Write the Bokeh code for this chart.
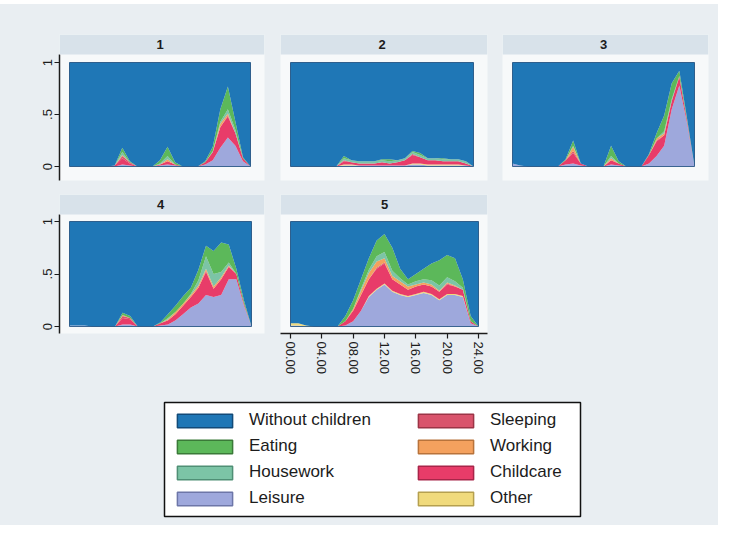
import numpy as np
from bokeh.plotting import figure
from bokeh.models import (ColumnDataSource, Range1d, FixedTicker, Label, Legend,
                          LegendItem, BoxAnnotation, Spacer)
from bokeh.layouts import column, row
from bokeh.embed import file_html
from bokeh.resources import INLINE

# ---------------- data ----------------
HOURS = [0, 1, 2, 3, 4, 5, 6, 7, 8, 9, 10, 11, 12, 13, 14, 15, 16, 17, 18, 19, 20, 21, 22, 23, 24]
X_TICKS = [0, 4, 8, 12, 16, 20, 24]
X_TICK_LABELS = ["00.00", "04.00", "08.00", "12.00", "16.00", "20.00", "24.00"]
Y_TICKS = [0, 0.5, 1]
Y_TICK_LABELS = ["0", ".5", "1"]
PANEL_NAMES = ["1", "2", "3", "4", "5"]
CATEGORIES = ["Without children", "Eating", "Housework", "Leisure",
              "Sleeping", "Working", "Childcare", "Other"]

# panel 1
p1_leisure   = [0, 0, 0, 0, 0, 0, 0, .02, .01, 0, 0, 0, .01, .02, .01, 0, 0, 0, .02, .06, .18, .28, .20, .05, 0]
p1_other     = [0, 0, 0, 0, 0, 0, 0, 0, 0, 0, 0, 0, 0, 0, 0, 0, 0, 0, 0, 0, 0, 0, 0, 0, 0]
p1_childcare = [0, 0, 0, 0, 0, 0, .01, .06, .02, 0, 0, 0, .01, .03, .01, 0, 0, 0, .02, .08, .20, .20, .12, .03, 0]
p1_sleeping  = [0, 0, 0, 0, 0, 0, 0, .02, .01, 0, 0, 0, 0, 0, 0, 0, 0, 0, 0, 0, 0, .01, 0, 0, 0]
p1_working   = [0, 0, 0, 0, 0, 0, 0, .01, 0, 0, 0, 0, 0, .02, 0, 0, 0, 0, 0, 0, .03, .02, 0, 0, 0]
p1_housework = [0, 0, 0, 0, 0, 0, 0, .03, 0, 0, 0, 0, .01, .03, 0, 0, 0, 0, 0, .01, .02, .04, .03, 0, 0]
p1_eating    = [0, 0, 0, 0, 0, 0, 0, .04, .01, 0, 0, 0, .03, .09, .02, 0, 0, 0, .01, .04, .12, .22, .08, .01, 0]

# panel 2
p2_leisure   = [0, 0, 0, 0, 0, 0, 0, .01, .01, .01, .01, .01, .01, .01, .01, .01, .02, .02, .01, .01, .01, .01, .01, .01, 0]
p2_other     = [0, 0, 0, 0, 0, 0, 0, .01, .01, 0, 0, 0, 0, 0, 0, 0, .01, .01, .01, .01, .01, .01, .01, 0, 0]
p2_childcare = [0, 0, 0, 0, 0, 0, 0, .03, .02, .02, .02, .02, .03, .02, .03, .05, .08, .06, .04, .04, .03, .03, .03, .02, 0]
p2_sleeping  = [0, 0, 0, 0, 0, 0, 0, .01, 0, 0, 0, 0, 0, 0, 0, 0, .01, 0, 0, 0, 0, 0, 0, 0, 0]
p2_working   = [0, 0, 0, 0, 0, 0, 0, 0, 0, 0, 0, 0, 0, 0, 0, 0, 0, 0, 0, 0, 0, 0, 0, 0, 0]
p2_housework = [0, 0, 0, 0, 0, 0, 0, .02, .02, .02, .02, .02, .02, .02, .02, .02, .02, .02, .02, .02, .02, .02, .02, .02, 0]
p2_eating    = [0, 0, 0, 0, 0, 0, 0, .02, 0, 0, 0, 0, .01, .02, 0, 0, .01, .02, 0, 0, .01, 0, 0, 0, 0]

# panel 3
p3_leisure   = [.03, .01, 0, 0, 0, 0, 0, .02, .03, .01, 0, 0, 0, .02, .01, 0, 0, 0, .03, .10, .20, .55, .78, .42, 0]
p3_other     = [0, 0, 0, 0, 0, 0, 0, 0, 0, 0, 0, 0, 0, 0, 0, 0, 0, 0, 0, 0, 0, 0, 0, 0, 0]
p3_childcare = [0, 0, 0, 0, 0, 0, 0, .04, .10, .02, 0, 0, 0, .04, .02, 0, 0, 0, .08, .14, .10, .08, .08, .03, 0]
p3_sleeping  = [0, 0, 0, 0, 0, 0, 0, 0, .02, 0, 0, 0, 0, 0, 0, 0, 0, 0, 0, .01, 0, 0, .01, 0, 0]
p3_working   = [0, 0, 0, 0, 0, 0, 0, 0, .04, 0, 0, 0, 0, .02, 0, 0, 0, 0, 0, .02, .02, 0, 0, 0, 0]
p3_housework = [0, 0, 0, 0, 0, 0, 0, 0, .01, 0, 0, 0, 0, .02, 0, 0, 0, 0, 0, 0, .02, .02, 0, 0, 0]
p3_eating    = [0, 0, 0, 0, 0, 0, 0, .01, .05, 0, 0, 0, 0, .10, .02, 0, 0, 0, .01, .05, .15, .15, .05, .02, 0]

# panel 4
p4_leisure   = [.01, .01, .01, 0, 0, 0, 0, .02, .02, 0, 0, 0, .01, .02, .06, .12, .18, .22, .30, .28, .30, .45, .45, .20, 0]
p4_other     = [0, 0, 0, 0, 0, 0, 0, 0, 0, 0, 0, 0, 0, 0, 0, 0, 0, 0, 0, 0, 0, 0, 0, 0, 0]
p4_childcare = [0, 0, 0, 0, 0, 0, 0, .06, .05, 0, 0, 0, .02, .04, .06, .08, .10, .15, .22, .08, .15, .12, .05, .02, 0]
p4_sleeping  = [0, 0, 0, 0, 0, 0, 0, .02, .01, 0, 0, 0, 0, 0, 0, 0, 0, 0, .01, 0, 0, 0, 0, 0, 0]
p4_working   = [0, 0, 0, 0, 0, 0, 0, .01, 0, 0, 0, 0, 0, .01, .02, .02, .02, .02, .02, .02, .02, .01, 0, 0, 0]
p4_housework = [0, 0, 0, 0, 0, 0, 0, 0, 0, 0, 0, 0, 0, .01, 0, 0, .01, .05, .12, .12, .05, .03, 0, 0, 0]
p4_eating    = [0, 0, 0, 0, 0, 0, 0, .02, .02, 0, 0, 0, .01, .04, .06, .07, .06, .10, .10, .22, .28, .17, .05, .03, 0]

# panel 5
p5_leisure   = [.01, .01, 0, 0, 0, 0, 0, .01, .05, .15, .28, .35, .40, .33, .30, .28, .30, .32, .30, .25, .30, .30, .28, .03, 0]
p5_other     = [.02, .02, .01, 0, 0, 0, 0, 0, 0, 0, .01, .01, .01, .01, .01, .01, .01, .01, .01, .01, .01, .01, .01, 0, 0]
p5_childcare = [0, 0, 0, 0, 0, 0, 0, .04, .10, .15, .16, .19, .19, .11, .09, .06, .07, .07, .07, .07, .09, .07, .06, .02, 0]
p5_sleeping  = [0, 0, 0, 0, 0, 0, 0, 0, 0, 0, 0, .01, .01, 0, 0, 0, 0, 0, 0, 0, .01, 0, 0, 0, 0]
p5_working   = [0, 0, 0, 0, 0, 0, 0, 0, .02, .04, .06, .06, .04, .03, .03, .03, .02, .02, .02, .01, .01, .01, 0, 0, 0]
p5_housework = [0, 0, 0, 0, 0, 0, 0, 0, 0, .02, .03, .05, .06, .05, .03, .02, .03, .03, .04, .05, .05, .04, .02, 0, 0]
p5_eating    = [0, 0, 0, 0, 0, 0, 0, .05, .08, .09, .11, .15, .17, .22, .09, .05, .07, .10, .16, .24, .21, .22, .08, .05, 0]

PANEL_DATA = [
    dict(leisure=p1_leisure, other=p1_other, childcare=p1_childcare, sleeping=p1_sleeping,
         working=p1_working, housework=p1_housework, eating=p1_eating),
    dict(leisure=p2_leisure, other=p2_other, childcare=p2_childcare, sleeping=p2_sleeping,
         working=p2_working, housework=p2_housework, eating=p2_eating),
    dict(leisure=p3_leisure, other=p3_other, childcare=p3_childcare, sleeping=p3_sleeping,
         working=p3_working, housework=p3_housework, eating=p3_eating),
    dict(leisure=p4_leisure, other=p4_other, childcare=p4_childcare, sleeping=p4_sleeping,
         working=p4_working, housework=p4_housework, eating=p4_eating),
    dict(leisure=p5_leisure, other=p5_other, childcare=p5_childcare, sleeping=p5_sleeping,
         working=p5_working, housework=p5_housework, eating=p5_eating),
]

# ---------------- style ----------------
KEYS = ["without", "eating", "housework", "leisure", "sleeping", "working", "childcare", "other"]
LABELS = dict(zip(KEYS, CATEGORIES))
STACK = ["leisure", "other", "childcare", "sleeping", "working", "housework", "eating", "without"]
FILL = {"without": "#1f77b6", "eating": "#5cb85a", "housework": "#7cc4a6", "leisure": "#9ea8dc",
        "sleeping": "#d9546c", "working": "#f4a15e", "childcare": "#e83c69", "other": "#f0da7c"}
EDGE = {"without": "#124a78", "eating": "#3a7a38", "housework": "#4f8f75", "leisure": "#6d76a8",
        "sleeping": "#9c3446", "working": "#b8733b", "childcare": "#a82549", "other": "#b5a04f"}

BG = "#e9eef2"
PANEL_BG = "#f7f9fa"
STRIP_BG = "#d8e2ea"
FONT = "Liberation Sans"
INK = "#1c1c1c"
BGSTYLE = {"background-color": BG}

ROWS = {1: dict(h=183, ft=30, fb=176, pt=58, pb=162, sb=50),
        2: dict(h=200, ft=7, fb=146, pt=34, pb=139, sb=27)}


def make_panel(i, w, fl, fr, pl, pr, r, yaxis=False, xaxis=False):
    g = ROWS[r]
    h, ft, fb, pt, pb, sb = g["h"], g["ft"], g["fb"], g["pt"], g["pb"], g["sb"]
    xppu = (pr - pl) / 24.0
    x0 = -(pl - fl) / xppu
    x1 = 24 + (fr - pr) / xppu
    yppu = float(pb - pt)
    y0 = -(fb - pb) / yppu
    y1 = 1 + (pt - ft) / yppu
    strip_y = 1 + (pt - sb) / yppu

    p = figure(width=w, height=h, x_range=Range1d(x0, x1), y_range=Range1d(y0, y1),
               min_border_left=fl, min_border_right=w - fr,
               min_border_top=ft, min_border_bottom=h - fb,
               output_backend="svg", toolbar_location=None, title=None,
               x_axis_location="below" if xaxis else None,
               y_axis_location="left" if yaxis else None,
               background_fill_color=PANEL_BG, border_fill_color=BG,
               outline_line_color=None, styles=BGSTYLE)
    p.xgrid.visible = False
    p.ygrid.visible = False

    d = {k: np.array(v, dtype=float) for k, v in PANEL_DATA[i].items()}
    total = sum(d[k] for k in STACK if k != "without")
    d["without"] = np.clip(1.0 - total, 0, None)
    d["hour"] = np.array(HOURS, dtype=float)
    src = ColumnDataSource(d)
    p.varea_stack(stackers=STACK, x="hour", color=[FILL[k] for k in STACK], source=src)

    p.add_layout(BoxAnnotation(left=0, right=24, bottom=0, top=1, fill_alpha=0,
                               line_color="#17487a", line_width=1, line_alpha=0.8))
    p.add_layout(BoxAnnotation(left=x0, right=x1, bottom=strip_y, top=y1,
                               fill_color=STRIP_BG, fill_alpha=1, line_color=None))
    p.add_layout(Label(x=12, y=(strip_y + y1) / 2, text=PANEL_NAMES[i], text_align="center",
                       text_baseline="middle", text_font=FONT, text_font_size="13px",
                       text_font_style="bold", text_color=INK))

    if yaxis:
        ax = p.yaxis[0]
        ax.ticker = FixedTicker(ticks=Y_TICKS)
        ax.major_label_overrides = dict(zip(Y_TICKS, Y_TICK_LABELS))
        ax.major_label_orientation = "vertical"
        ax.bounds = (y0, strip_y)
    if xaxis:
        ax = p.xaxis[0]
        ax.ticker = FixedTicker(ticks=X_TICKS)
        ax.major_label_overrides = dict(zip(X_TICKS, X_TICK_LABELS))
        ax.major_label_orientation = "vertical"
    for ax in list(p.xaxis) + list(p.yaxis):
        ax.axis_line_color = INK
        ax.axis_line_width = 1.5
        ax.major_tick_line_color = INK
        ax.major_tick_line_width = 1.2
        ax.major_tick_out = 5
        ax.major_tick_in = 0
        ax.minor_tick_line_color = None
        ax.major_label_standoff = 3
        ax.major_label_text_font = FONT
        ax.major_label_text_font_size = "13px"
        ax.major_label_text_color = INK
    return p


f1 = make_panel(0, 274, 59, 264, 69, 250, 1, yaxis=True)
f2 = make_panel(1, 221, 6, 213, 16, 199, 1)
f3 = make_panel(2, 223, 7, 213, 17, 199, 1)
f4 = make_panel(3, 274, 59, 264, 69, 251, 2, yaxis=True)
f5 = make_panel(4, 221, 6, 213, 16, 204, 2, xaxis=True)

filler = figure(width=223, height=200, toolbar_location=None, output_backend="svg", title=None,
                x_axis_location=None, y_axis_location=None, x_range=Range1d(0, 1),
                y_range=Range1d(0, 1), background_fill_color=BG, border_fill_color=BG,
                outline_line_color=None, min_border=0, styles=BGSTYLE)
filler.xgrid.visible = False
filler.ygrid.visible = False

# ---------------- legend ----------------
lf = figure(width=718, height=138, toolbar_location=None, output_backend="svg", title=None,
            x_axis_location=None, y_axis_location=None, x_range=Range1d(0, 1),
            y_range=Range1d(0, 1), background_fill_color="#ffffff", border_fill_color=BG,
            outline_line_color="#111111", outline_line_width=1.5,
            min_border_left=164, min_border_right=138, min_border_top=15, min_border_bottom=9,
            styles=BGSTYLE)
lf.xgrid.visible = False
lf.ygrid.visible = False

# legend-only renderers: one swatch record each, kept outside the visible range
rend = {}
for k in KEYS:
    rend[k] = lf.quad(left=[-3], right=[-2], top=[-2], bottom=[-3], fill_color=FILL[k],
                      line_color=EDGE[k], line_width=1.5)


def make_legend(keys, x):
    leg = Legend(items=[LegendItem(label=LABELS[k], renderers=[rend[k]]) for k in keys],
                 location=(x, 8), padding=0, margin=0, spacing=6,
                 glyph_width=69, glyph_height=17, label_height=20, label_standoff=10,
                 label_text_font=FONT, label_text_font_size="17px", label_text_color=INK,
                 border_line_color=None, background_fill_alpha=0)
    lf.add_layout(leg)


make_legend(KEYS[:4], 6)
make_legend(KEYS[4:], 247)

top = Spacer(width=718, height=4)
layout = column(top,
                row(f1, f2, f3, styles=BGSTYLE),
                row(f4, f5, filler, styles=BGSTYLE),
                lf)

open("out.html", "w").write(file_html(layout, INLINE))
